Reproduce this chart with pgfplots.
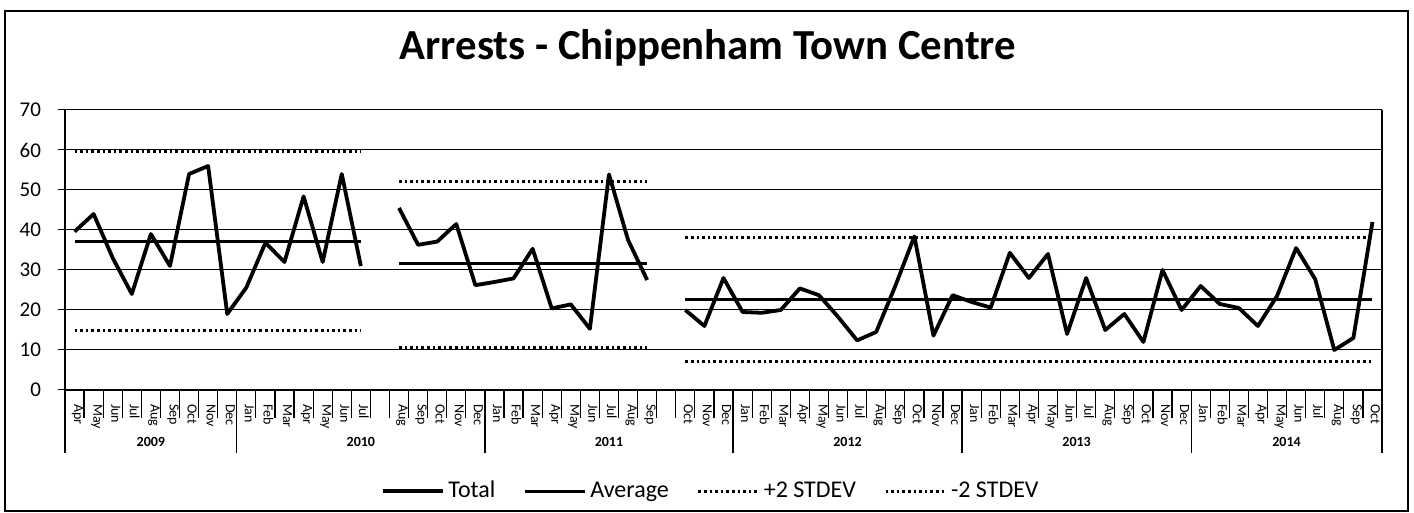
\documentclass[border=0pt]{standalone}
\usepackage{fontspec}
\setmainfont{Carlito}
\usepackage{pgfplots}
\pgfplotsset{compat=1.18}
\begin{document}
\begin{tikzpicture}[x=1pt,y=1pt]
\path[use as bounding box] (0,0) rectangle (707,256.5);
\draw[line width=0.9pt] (2.5,0.8) rectangle (704,251);
\node[font=\bfseries\fontsize{21.4}{24}\selectfont] at (354,232.5) {Arrests - Chippenham Town Centre};
\begin{axis}[
  at={(32.5pt,61.5pt)}, anchor=south west,
  scale only axis, width=658.5pt, height=140pt,
  xmin=-0.5, xmax=68.5, ymin=0, ymax=70,
  axis lines=left,
  axis line style={black, line width=0.6pt, -},
  ytick={0,10,...,70},
  ymajorgrids, grid style={black, line width=0.5pt},
  xtick={0,...,68},
  xticklabels={Apr,May,Jun,Jul,Aug,Sep,Oct,Nov,Dec,Jan,Feb,Mar,Apr,May,Jun,Jul,{},Aug,Sep,Oct,Nov,Dec,Jan,Feb,Mar,Apr,May,Jun,Jul,Aug,Sep,{},Oct,Nov,Dec,Jan,Feb,Mar,Apr,May,Jun,Jul,Aug,Sep,Oct,Nov,Dec,Jan,Feb,Mar,Apr,May,Jun,Jul,Aug,Sep,Oct,Nov,Dec,Jan,Feb,Mar,Apr,May,Jun,Jul,Aug,Sep,Oct},
  major x tick style={draw=none},
  minor xtick={-0.5,0.5,...,68.5},
  minor x tick style={black, line width=0.6pt},
  major y tick style={black, line width=0.5pt},
  tick align=outside,
  major tick length=3.5pt, minor tick length=14pt,
  xticklabel style={rotate=-90, anchor=west, font=\fontsize{7}{8}\selectfont, yshift=1.5pt},
  yticklabel style={font=\fontsize{10.5}{12}\selectfont, xshift=-5pt},
  /pgf/number format/assume math mode=true,
  legend style={at={(0.491,-0.361)}, anchor=center, draw=none, fill=none,
    font=\fontsize{12}{14}\selectfont, legend columns=4,
    /tikz/every even column/.append style={column sep=12pt}},
  legend image code/.code={\draw[#1] (0pt,0pt) -- (30pt,0pt);},
  clip=false,
]
% segment 1
\addplot[black, line width=1.9pt, line join=round] coordinates {
 (0,39.6) (1,44) (2,33) (3,24) (4,39) (5,31) (6,54) (7,56) (8,19) (9,25.6) (10,36.8) (11,32) (12,48.4) (13,32) (14,54) (15,31)};
\addlegendentry{Total}
\addplot[black, line width=1.5pt] coordinates {(0,37.1) (15,37.1)};
\addlegendentry{Average}
\addplot[black, line width=1.5pt, dash pattern=on 1.3pt off 1.5pt] coordinates {(0,59.7) (15,59.7)};
\addlegendentry{+2 STDEV}
\addplot[black, line width=1.5pt, dash pattern=on 1.3pt off 1.5pt] coordinates {(0,14.9) (15,14.9)};
\addlegendentry{-2 STDEV}
% segment 2
\addplot[black, line width=1.9pt, line join=round, forget plot] coordinates {
 (17,45.5) (18,36.3) (19,37.1) (20,41.5) (21,26.2) (22,27) (23,27.9) (24,35.3) (25,20.4) (26,21.4) (27,15.3) (28,53.9) (29,37.5) (30,27.5)};
\addplot[black, line width=1.5pt, forget plot] coordinates {(17,31.7) (30,31.7)};
\addplot[black, line width=1.5pt, dash pattern=on 1.3pt off 1.5pt, forget plot] coordinates {(17,52.2) (30,52.2)};
\addplot[black, line width=1.5pt, dash pattern=on 1.3pt off 1.5pt, forget plot] coordinates {(17,10.7) (30,10.7)};
% segment 3
\addplot[black, line width=1.9pt, line join=round, forget plot] coordinates {
 (32,20) (33,16) (34,28) (35,19.5) (36,19.3) (37,20) (38,25.4) (39,23.7) (40,18.3) (41,12.4) (42,14.5) (43,26) (44,38.4) (45,13.6) (46,23.7) (47,22) (48,20.6) (49,34.3) (50,28) (51,34) (52,14) (53,28) (54,15) (55,19) (56,12) (57,30) (58,20) (59,26) (60,21.5) (61,20.5) (62,16) (63,23.5) (64,35.5) (65,27.7) (66,10) (67,13) (68,42)};
\addplot[black, line width=1.5pt, forget plot] coordinates {(32,22.5) (68,22.5)};
\addplot[black, line width=1.5pt, dash pattern=on 1.3pt off 1.5pt, forget plot] coordinates {(32,38.2) (68,38.2)};
\addplot[black, line width=1.5pt, dash pattern=on 1.3pt off 1.5pt, forget plot] coordinates {(32,7) (68,7)};
% category axis decorations
\draw[black, line width=0.6pt] (axis cs:68.5,70) -- (axis cs:68.5,0);
\pgfplotsinvokeforeach{-0.5,8.5,21.5,34.5,46.5,58.5,68.5}{
  \draw[black, line width=0.6pt] (axis cs:#1,0) -- ++(0pt,-31.5pt);
}
\node[font=\bfseries\fontsize{7}{8}\selectfont, yshift=-26pt] at (axis cs:4,0) {2009};
\node[font=\bfseries\fontsize{7}{8}\selectfont, yshift=-26pt] at (axis cs:15,0) {2010};
\node[font=\bfseries\fontsize{7}{8}\selectfont, yshift=-26pt] at (axis cs:28,0) {2011};
\node[font=\bfseries\fontsize{7}{8}\selectfont, yshift=-26pt] at (axis cs:40.5,0) {2012};
\node[font=\bfseries\fontsize{7}{8}\selectfont, yshift=-26pt] at (axis cs:52.5,0) {2013};
\node[font=\bfseries\fontsize{7}{8}\selectfont, yshift=-26pt] at (axis cs:63.5,0) {2014};
\end{axis}
\end{tikzpicture}
\end{document}
